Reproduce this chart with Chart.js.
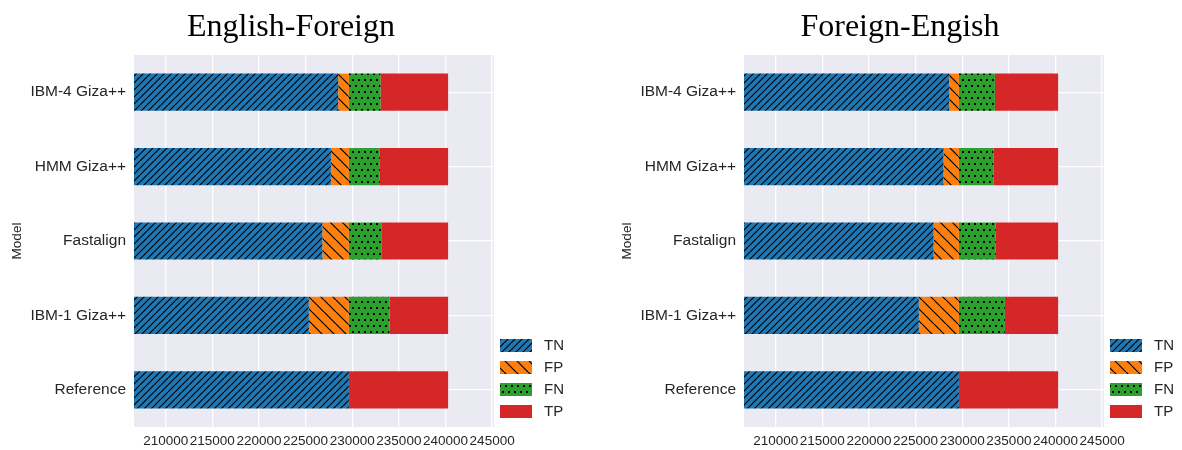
<!DOCTYPE html>
<html>
<head>
<meta charset="utf-8">
<script src="https://cdn.jsdelivr.net/npm/chart.js@4.4.0/dist/chart.umd.min.js"></script>
<style>
  html, body { margin: 0; padding: 0; background: #fff; }
  #wrap { position: relative; width: 1182px; height: 450px; }
  .box { position: absolute; top: 0; height: 450px; }
</style>
</head>
<body>
<div id="wrap">
  <div class="box" style="left:0;width:610px"><canvas id="chartEF"></canvas></div>
  <div class="box" style="left:610px;width:572px"><canvas id="chartFE"></canvas></div>
</div>
<script>
const models = ['IBM-4 Giza++', 'HMM Giza++', 'Fastalign', 'IBM-1 Giza++', 'Reference'];
const seriesNames = ['TN', 'FP', 'FN', 'TP'];
const xTicks = [210000, 215000, 220000, 225000, 230000, 235000, 240000, 245000];

// English-Foreign
const efTN = [228490, 227710, 226800, 225350, 229640];
const efFP = [1150, 1930, 2840, 4290, 0];
const efFN = [3390, 3320, 3470, 4360, 0];
const efTP = [7250, 7320, 7170, 6280, 10640];

// Foreign-English
const feTN = [228600, 227990, 226930, 225350, 229640];
const feFP = [1040, 1650, 2710, 4290, 0];
const feFN = [3860, 3700, 3960, 4930, 0];
const feTP = [6780, 6940, 6680, 5710, 10640];

const BLUE = '#1f77b4', ORANGE = '#ff7f0e', GREEN = '#2ca02c', RED = '#d62728';

function makeTile(w, h, draw) {
    const c = document.createElement('canvas');
    c.width = w; c.height = h;
    const g = c.getContext('2d');
    draw(g);
    return document.createElement('canvas').getContext('2d').createPattern(c, 'repeat');
}

const tnFill = makeTile(7, 7, g => {
    g.fillStyle = BLUE; g.fillRect(0, 0, 7, 7);
    g.strokeStyle = '#000'; g.lineWidth = 1.2;
    g.beginPath();
    for (const k of [-7, 0, 7]) { g.moveTo(k, 7); g.lineTo(k + 7, 0); }
    g.stroke();
});
const fpFill = makeTile(12, 12, g => {
    g.fillStyle = ORANGE; g.fillRect(0, 0, 12, 12);
    g.strokeStyle = '#000'; g.lineWidth = 1.2;
    g.beginPath();
    for (const k of [-12, 0, 12]) { g.moveTo(k, 0); g.lineTo(k + 12, 12); }
    g.stroke();
});
const fnFill = makeTile(6, 12, g => {
    g.fillStyle = GREEN; g.fillRect(0, 0, 6, 12);
    g.fillStyle = '#000';
    g.fillRect(1, 1, 2, 2);
    g.fillRect(4, 7, 2, 2);
});
const fills = [tnFill, fpFill, fnFill, RED];

// plot background + title + legend
const decor = {
    id: 'decor',
    beforeDraw(chart) {
        const a = chart.chartArea, ctx = chart.ctx;
        ctx.save();
        ctx.fillStyle = '#eaeaf2';
        ctx.fillRect(a.left, a.top, a.right - a.left, a.bottom - a.top);
        ctx.restore();
    },
    afterDraw(chart, args, opts) {
        const ctx = chart.ctx;
        ctx.save();
        ctx.fillStyle = '#000';
        ctx.font = '32px "Liberation Serif", "DejaVu Serif", serif';
        ctx.textAlign = 'center';
        ctx.textBaseline = 'alphabetic';
        ctx.fillText(opts.title, opts.titleX, 36);

        ctx.font = '15px "Liberation Sans", Arial, sans-serif';
        ctx.textAlign = 'left';
        ctx.textBaseline = 'middle';
        chart.data.datasets.forEach((ds, i) => {
            const y = 345 + i * 22;
            ctx.fillStyle = ds.backgroundColor;
            ctx.fillRect(500, y - 6, 32, 13);
            ctx.fillStyle = '#262626';
            ctx.fillText(ds.label, 544, y + 1);
        });
        ctx.restore();
    }
};

function buildChart(id, tn, fp, fn, tp, title, titleX, padRight) {
    const values = [tn, fp, fn, tp];
    return new Chart(document.getElementById(id), {
        type: 'bar',
        data: {
            labels: models,
            datasets: seriesNames.map((name, i) => ({
                label: name,
                data: values[i],
                backgroundColor: fills[i],
                borderWidth: 0,
                barPercentage: 0.5,
                categoryPercentage: 1.0,
                clip: 0
            }))
        },
        options: {
            indexAxis: 'y',
            responsive: true,
            maintainAspectRatio: false,
            animation: false,
            layout: { padding: { top: 55, right: padRight, bottom: 0, left: 0 } },
            scales: {
                x: {
                    type: 'linear',
                    stacked: true,
                    min: 206600,
                    max: 245200,
                    afterBuildTicks: s => { s.ticks = xTicks.map(v => ({ value: v })); },
                    afterFit: s => { s.height = 23; },
                    grid: { color: '#ffffff', lineWidth: 1.3, drawTicks: false },
                    border: { display: false },
                    ticks: {
                        padding: 6,
                        color: '#262626',
                        font: { family: '"Liberation Sans", Arial, sans-serif', size: 13.5 },
                        callback: v => String(v),
                        maxRotation: 0,
                        autoSkip: false
                    }
                },
                y: {
                    stacked: true,
                    afterFit: s => { s.width = 134; },
                    grid: { color: '#ffffff', lineWidth: 1.3, drawTicks: false, offset: false },
                    border: { display: false },
                    ticks: {
                        padding: 8,
                        color: '#262626',
                        font: { family: '"Liberation Sans", Arial, sans-serif', size: 15.5 }
                    },
                    title: {
                        display: true,
                        text: 'Model',
                        color: '#262626',
                        padding: { top: 9, bottom: 0 },
                        font: { family: '"Liberation Sans", Arial, sans-serif', size: 13.5 }
                    }
                }
            },
            plugins: {
                legend: { display: false },
                tooltip: { enabled: false },
                decor: { title: title, titleX: titleX }
            }
        },
        plugins: [decor]
    });
}

buildChart('chartEF', efTN, efFP, efFN, efTP, 'English-Foreign', 291, 116);
buildChart('chartFE', feTN, feFP, feFN, feTP, 'Foreign-Engish', 290, 78);
</script>
</body>
</html>
